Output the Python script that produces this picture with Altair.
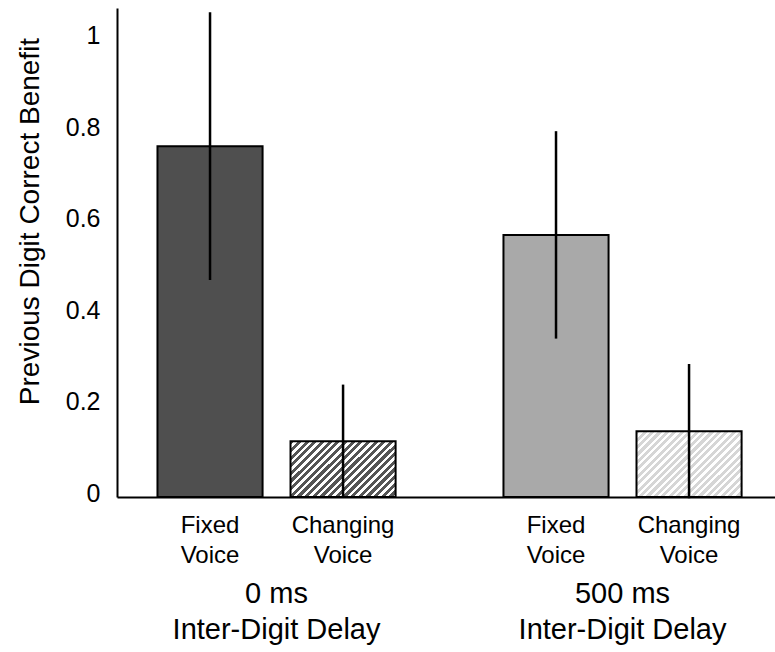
import altair as alt
import pandas as pd

# ---- data ----
groups = ["0 ms", "0 ms", "500 ms", "500 ms"]
voices = ["Fixed", "Changing", "Fixed", "Changing"]
voice_labels = ["Fixed\nVoice", "Changing\nVoice", "Fixed\nVoice", "Changing\nVoice"]
keys = ["f0", "c0", "f500", "c500"]
means = [0.767, 0.122, 0.573, 0.144]
errs = [0.290, 0.121, 0.224, 0.144]

y_ticks = [0, 0.2, 0.4, 0.6, 0.8, 1]
y_max = 1.069

W, H = 658, 489
BAR_W = 105
FONT = "Liberation Sans"

df = pd.DataFrame({
    "group": groups,
    "voice": voices,
    "vlabel": voice_labels,
    "key": keys,
    "mean": means,
    "lo": [m - e for m, e in zip(means, errs)],
    "hi": [m + e for m, e in zip(means, errs)],
})
df["lo"] = df["lo"].clip(lower=0)


def hatch(value, color, period=7.5):
    """Diagonal '/' stripes via a multi-stop linear gradient in bbox units."""
    w = BAR_W
    h = value * H / y_max
    L = (w * w + h * h) / (w + h)
    n = max(1, round((w + h) / period))
    stops = []
    for k in range(n):
        a, m, b = k / n, (k + 0.55) / n, (k + 1) / n
        stops += [
            {"offset": a, "color": color},
            {"offset": m, "color": color},
            {"offset": m, "color": "#ffffff"},
            {"offset": b, "color": "#ffffff"},
        ]
    return {"gradient": "linear", "x1": 0, "y1": 0, "x2": w / L, "y2": h / L, "stops": stops}


x_enc = alt.X(
    "group:N",
    scale=alt.Scale(domain=["0 ms", "500 ms"], paddingInner=0.231, paddingOuter=0.0664, align=0.577),
    axis=alt.Axis(
        title=None,
        ticks=False,
        domain=True,
        domainColor="black",
        domainWidth=2,
        labelPadding=105,
        labelBaseline="alphabetic",
        labelFont=FONT,
        labelFontSize=29,
        labelColor="black",
        labelLineHeight=36,
        labelAngle=0,
        labelLimit=0,
        labelExpr="[datum.label, 'Inter-Digit Delay']",
    ),
)
xo_enc = alt.XOffset(
    "voice:N",
    scale=alt.Scale(domain=["Fixed", "Changing"], paddingInner=0.21, paddingOuter=0.105),
)
y_scale = alt.Scale(domain=[0, y_max], nice=False, zero=True)

base = alt.Chart(df).encode(x=x_enc, xOffset=xo_enc)

solid = base.mark_bar(stroke="black", strokeWidth=2).encode(
    y=alt.Y(
        "mean:Q",
        scale=y_scale,
        axis=alt.Axis(
            values=y_ticks,
            format=".1~f",
            ticks=False,
            grid=False,
            domain=True,
            domainColor="black",
            domainWidth=2,
            labelFont=FONT,
            labelFontSize=25,
            labelColor="black",
            labelPadding=17,
            labelOffset=-4,
            title="Previous Digit Correct Benefit",
            titleFont=FONT,
            titleFontSize=28,
            titleFontWeight="normal",
            titleColor="black",
            titleAngle=270,
            titleAlign="center",
            titleBaseline="alphabetic",
            titleX=-79,
            titleY=213,
        ),
    ),
    fill=alt.Fill(
        "key:N",
        scale=alt.Scale(domain=["f0", "f500"], range=["#4f4f4f", "#a9a9a9"]),
        legend=None,
    ),
).transform_filter(alt.FieldOneOfPredicate(field="key", oneOf=["f0", "f500"]))

hatch0 = base.mark_bar(fill=hatch(means[1], "#555555"), stroke="black", strokeWidth=2).encode(
    y=alt.Y("mean:Q", scale=y_scale)
).transform_filter(alt.datum.key == "c0")

hatch500 = base.mark_bar(fill=hatch(means[3], "#d6d6d6"), stroke="black", strokeWidth=2).encode(
    y=alt.Y("mean:Q", scale=y_scale)
).transform_filter(alt.datum.key == "c500")

errbars = base.mark_rule(color="black", strokeWidth=2.5, strokeCap="square").encode(
    y=alt.Y("lo:Q", scale=y_scale),
    y2="hi:Q",
)

vtext = base.mark_text(
    font=FONT, fontSize=24, color="black", baseline="alphabetic", align="center",
    lineBreak="\n", lineHeight=30,
).encode(text="vlabel:N", y=alt.value(H + 36))

chart = alt.layer(solid, hatch0, hatch500, errbars, vtext).properties(
    width=W,
    height=H,
    background="white",
    padding={"left": 117, "top": 8, "right": 0, "bottom": 155},
    autosize=alt.AutoSizeParams(type="none"),
).configure_view(stroke=None)

chart.save("out.html", embed_options={"renderer": "svg", "actions": False})
